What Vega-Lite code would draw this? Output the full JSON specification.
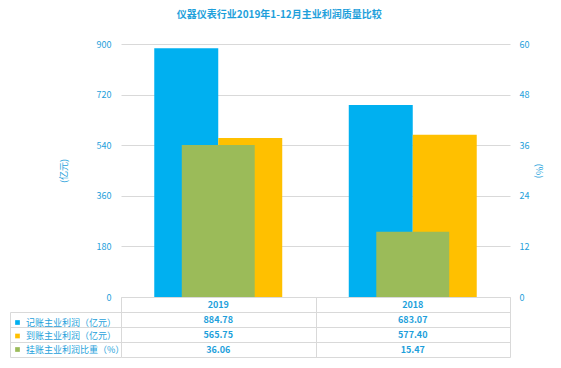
{
  "$schema": "https://vega.github.io/schema/vega-lite/v6.json",
  "background": "white",
  "padding": {"left": 9, "top": 10, "right": 5, "bottom": 5},
  "autosize": {"type": "pad"},
  "title": {"text": "仪器仪表行业2019年1-12月主业利润质量比较", "fontSize": 10, "font": "Noto Sans CJK SC", "fontWeight": "bold", "color": "#1E9FDB", "anchor": "middle", "frame": "bounds", "offset": 20, "dx": 3},
  "datasets": {
    "main": [
      {"year": "2019", "series": "记账主业利润（亿元）", "value": 884.78},
      {"year": "2018", "series": "记账主业利润（亿元）", "value": 683.07},
      {"year": "2019", "series": "到账主业利润（亿元）", "value": 565.75},
      {"year": "2018", "series": "到账主业利润（亿元）", "value": 577.40},
      {"year": "2019", "series": "挂账主业利润比重（%）", "value": 36.06},
      {"year": "2018", "series": "挂账主业利润比重（%）", "value": 15.47}
    ]
  },
  "bounds": "flush",
  "spacing": 0,
  "resolve": {"scale": {"x": "independent", "y": "independent", "color": "independent"}, "legend": {"color": "independent"}},
  "vconcat": [
    {
      "width": 389,
      "height": 253,
      "data": {"name": "main"},
      "layer": [
        {
          "transform": [{"filter": "datum.series !== '挂账主业利润比重（%）'"}],
          "mark": {"type": "bar"},
          "encoding": {
            "x": {"field": "year", "type": "nominal", "sort": ["2019", "2018"], "scale": {"paddingInner": 0.342, "paddingOuter": 0.171}, "axis": null},
            "xOffset": {"field": "series", "type": "nominal", "sort": ["记账主业利润（亿元）", "到账主业利润（亿元）"], "scale": {"paddingInner": 0, "paddingOuter": 0}},
            "y": {"field": "value", "type": "quantitative", "scale": {"domain": [0, 900], "nice": false},
              "axis": {"values": [0, 180, 360, 540, 720, 900], "labelColor": "#1E9FDB", "labelFontSize": 9, "labelPadding": 10, "domain": false, "ticks": false, "grid": true, "gridColor": "#d9d9d9", "title": "(亿元)", "titleColor": "#1E9FDB", "titleFontSize": 9, "titleFontWeight": "normal", "titlePadding": 28}},
            "color": {"field": "series", "type": "nominal",
              "scale": {"domain": ["记账主业利润（亿元）", "到账主业利润（亿元）", "挂账主业利润比重（%）"], "range": ["#00B0F0", "#FFC000", "#9BBB59"]},
              "legend": {"orient": "none", "legendX": -108, "legendY": 274, "direction": "vertical", "title": null, "symbolType": "square", "symbolSize": 22, "symbolStrokeWidth": 0, "labelColor": "#1E9FDB", "labelFontSize": 9, "rowPadding": 3.5, "labelOffset": 4, "padding": 0, "labelLimit": 200}}
          }
        },
        {
          "transform": [{"filter": "datum.series === '挂账主业利润比重（%）'"}],
          "mark": {"type": "bar", "width": {"band": 0.57}},
          "encoding": {
            "x": {"field": "year", "type": "nominal", "sort": ["2019", "2018"], "axis": null},
            "y": {"field": "value", "type": "quantitative", "scale": {"domain": [0, 60], "nice": false},
              "axis": {"orient": "right", "values": [0, 12, 24, 36, 48, 60], "labelColor": "#1E9FDB", "labelFontSize": 9, "labelPadding": 9, "domain": false, "ticks": false, "grid": false, "title": "(%)", "titleColor": "#1E9FDB", "titleFontSize": 9, "titleFontWeight": "normal", "titlePadding": 5}},
            "color": {"field": "series", "type": "nominal"}
          }
        }
      ],
      "resolve": {"scale": {"y": "independent"}}
    },
    {
      "width": 389,
      "height": 60,
      "data": {"name": "main"},
      "layer": [
        {
          "transform": [{"filter": "datum.series === '记账主业利润（亿元）'"}],
          "mark": {"type": "text", "fontSize": 9, "fontWeight": "bold", "color": "#1E9FDB"},
          "encoding": {
            "x": {"field": "year", "type": "nominal", "sort": ["2019", "2018"], "scale": {"paddingInner": 0, "paddingOuter": 0},
              "axis": {"orient": "top", "labels": false, "ticks": false, "domain": false, "grid": true, "tickBand": "extent", "gridColor": "#d9d9d9", "title": null}},
            "y": {"datum": "hdr", "type": "nominal", "scale": {"domain": ["hdr", "记账主业利润（亿元）", "到账主业利润（亿元）", "挂账主业利润比重（%）"], "paddingInner": 0, "paddingOuter": 0},
              "axis": {"orient": "left", "labels": false, "title": null, "domain": false, "grid": true, "gridColor": "#d9d9d9", "tickBand": "extent", "ticks": true, "tickSize": 111, "tickColor": {"condition": {"test": "datum.extra", "value": "transparent"}, "value": "#d9d9d9"}}},
            "text": {"field": "year", "type": "nominal"}
          }
        },
        {
          "mark": {"type": "text", "fontSize": 9, "fontWeight": "bold", "color": "#1E9FDB"},
          "encoding": {
            "x": {"field": "year", "type": "nominal", "sort": ["2019", "2018"]},
            "y": {"field": "series", "type": "nominal", "scale": {"domain": ["记账主业利润（亿元）", "到账主业利润（亿元）", "挂账主业利润比重（%）"], "range": [15, 60], "paddingInner": 0, "paddingOuter": 0},
              "axis": {"orient": "left", "offset": 111, "labels": false, "title": null, "domain": true, "domainColor": "#d9d9d9", "grid": false, "ticks": false}},
            "text": {"field": "value", "type": "quantitative", "format": ".2f"}
          }
        }
      ],
      "resolve": {"scale": {"y": "independent"}}
    }
  ],
  "config": {
    "font": "Noto Sans CJK SC",
    "view": {"stroke": null}
  }
}
